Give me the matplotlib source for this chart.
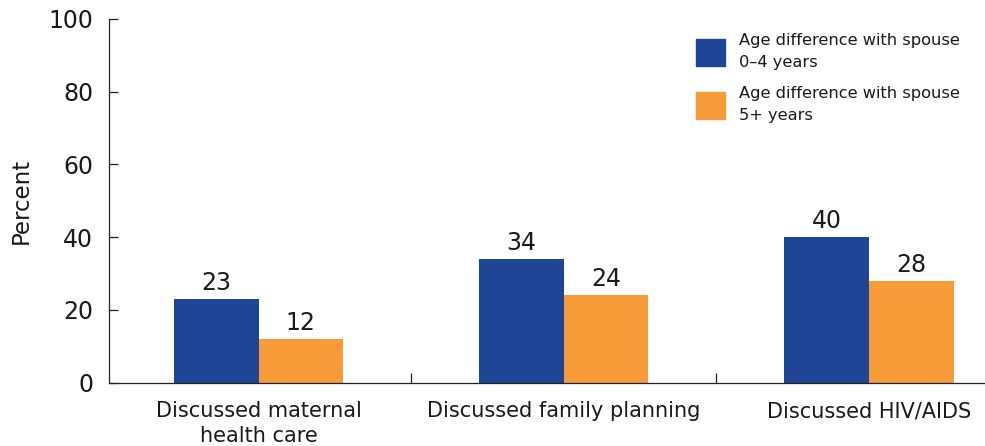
import matplotlib
matplotlib.use("Agg")
import matplotlib.pyplot as plt
import numpy as np
from matplotlib.patches import Patch

categories = ["Discussed maternal\nhealth care", "Discussed family planning", "Discussed HIV/AIDS"]
series_names = ["Age difference with spouse\n0\u20134 years", "Age difference with spouse\n5+ years"]
values_0_4 = [23, 34, 40]
values_5plus = [12, 24, 28]
yticks = [0, 20, 40, 60, 80, 100]

blue = "#1f4597"
orange = "#f79b38"
txt = "#1a1a1a"

plt.rcParams['font.family'] = ['DejaVu Sans']

fig = plt.figure(figsize=(9.85, 4.46), dpi=100)
ax = fig.add_axes([109/985, 1-382.5/446, 1-109/985, (382.5-19)/446])

x = np.arange(len(categories))
w = 0.277
b1 = ax.bar(x - w/2, values_0_4, width=w, color=blue)
b2 = ax.bar(x + w/2, values_5plus, width=w, color=orange)

for rects, vals in ((b1, values_0_4), (b2, values_5plus)):
    for r, v in zip(rects, vals):
        ax.annotate(str(v), (r.get_x() + r.get_width()/2, v), xytext=(0, 6.5), textcoords='offset points',
                    ha='center', va='baseline', fontsize=17, color=txt)

ax.set_xlim(-0.49, 2.38)
ax.set_ylim(0, 100)
ax.set_yticks(yticks)
ax.tick_params(axis='y', direction='in', length=6.5, width=0.9, labelsize=17, pad=11.5, colors='#222222', labelcolor=txt)
ax.set_xticks(x)
ax.set_xticklabels(categories, fontsize=15, linespacing=1.3, color=txt)
ax.tick_params(axis='x', length=0, pad=13.5)
# divider ticks between categories
ax.set_xticks([0.5, 1.5], minor=True)
ax.tick_params(axis='x', which='minor', direction='in', length=7, width=0.9, colors='#222222')

for s in ['top', 'right']:
    ax.spines[s].set_visible(False)
ax.spines['left'].set_linewidth(0.9)
ax.spines['bottom'].set_linewidth(0.9)
ax.spines['left'].set_color('#222222')
ax.spines['bottom'].set_color('#222222')

ax.set_ylabel("Percent", fontsize=16.5, labelpad=11, color=txt)

handles = [Patch(color=blue), Patch(color=orange)]
leg = ax.legend(handles, series_names, loc='upper left', bbox_to_anchor=(0.670, 0.961), frameon=False,
                fontsize=11.7, handlelength=1.78, handleheight=2.2, labelspacing=1.0, handletextpad=0.85,
                borderpad=0, borderaxespad=0)
for t in leg.get_texts():
    t.set_linespacing(1.55)
    t.set_color(txt)

fig.savefig("out.png", dpi=100)
